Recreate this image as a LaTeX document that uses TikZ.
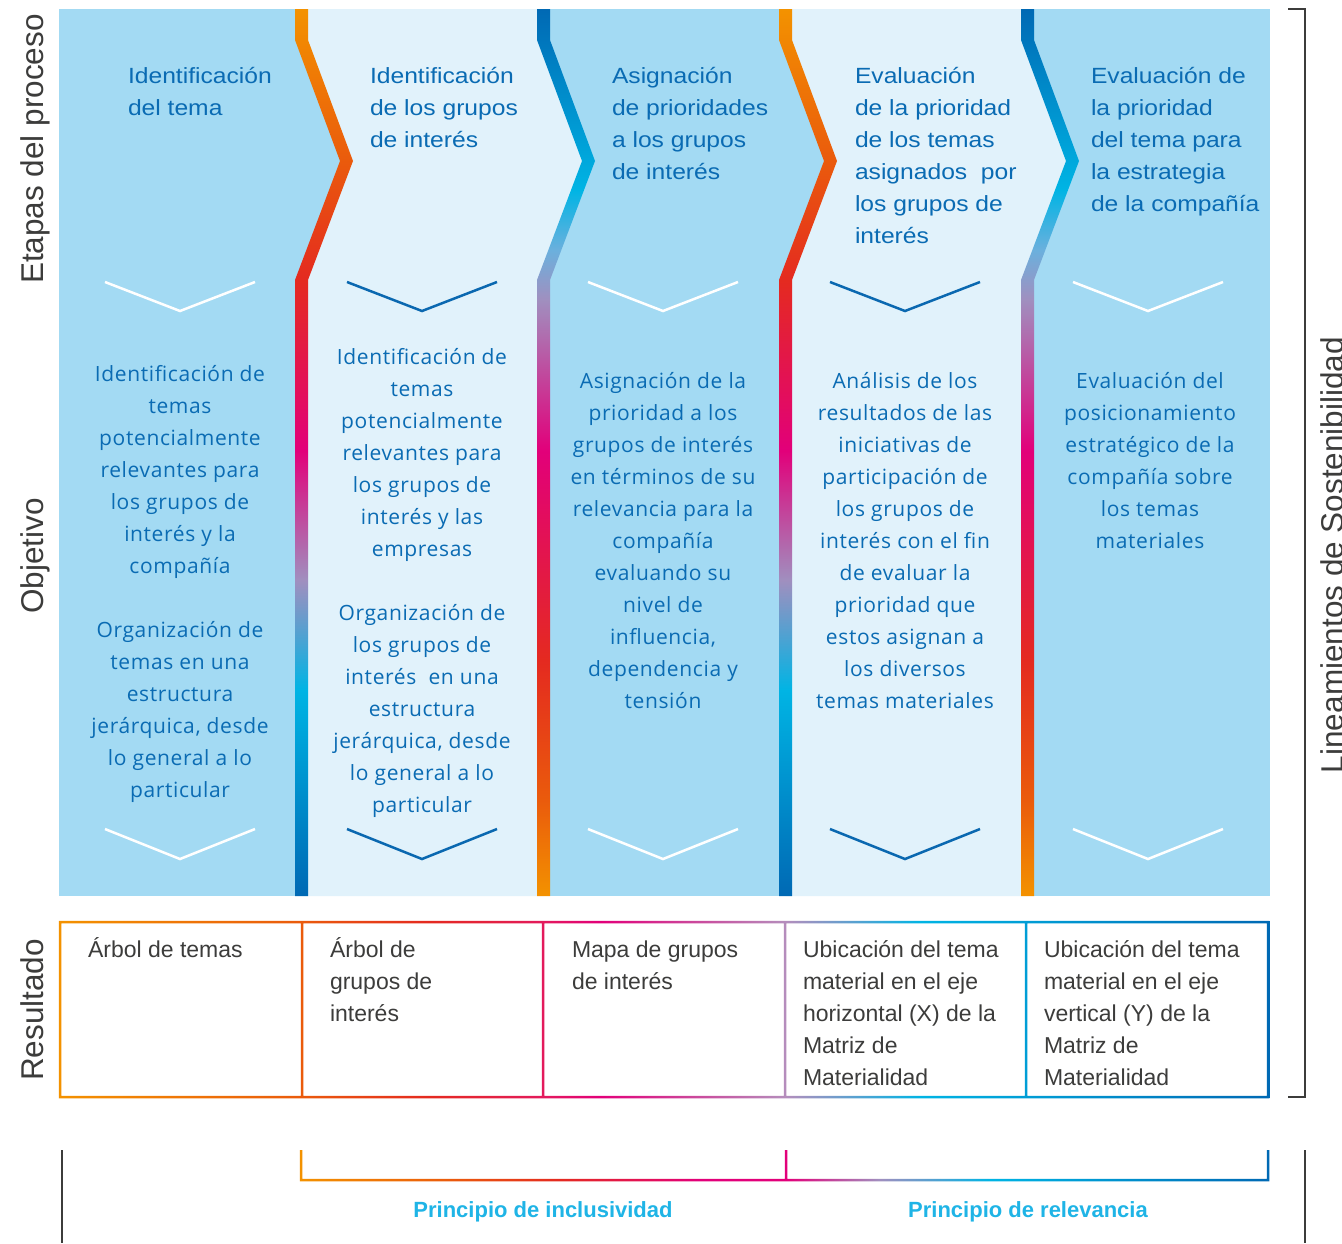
\documentclass[tikz,border=0pt]{standalone}
\usepackage{fontspec}
\setmainfont{Liberation Sans}
\newfontfamily\topfont[FakeStretch=1.12]{Liberation Sans}
\newfontfamily\objfont[LetterSpace=3]{Open Sans}
\definecolor{colA}{HTML}{A3DAF3}
\definecolor{colB}{HTML}{E1F2FB}
\definecolor{txtblue}{HTML}{0A6BB3}
\definecolor{chevblue}{HTML}{0A68B0}
\definecolor{txtgray}{HTML}{3C3C3B}
\definecolor{cyanbold}{HTML}{1FB4E6}
\definecolor{cOrange}{HTML}{F39200}
\definecolor{cOrRed}{HTML}{EA5B0C}
\definecolor{cRed}{HTML}{E42A20}
\definecolor{cMag}{HTML}{E2007A}
\definecolor{cLav}{HTML}{A08FBF}
\definecolor{cCyan}{HTML}{00B4E4}
\definecolor{cBlue}{HTML}{0069B4}
\definecolor{cLBlue}{HTML}{6BB0DD}
\definecolor{cPink}{HTML}{E31A5C}
\definecolor{cLavP}{HTML}{B58DBC}
\pgfdeclareverticalshading{barA}{100bp}{color(0bp)=(cBlue); color(25bp)=(cBlue); color(36.6bp)=(cCyan); color(42.8bp)=(cLav); color(50.1bp)=(cMag); color(59.7bp)=(cRed); color(66.5bp)=(cOrRed); color(75bp)=(cOrange); color(100bp)=(cOrange)}
\pgfdeclareverticalshading{barB}{100bp}{color(0bp)=(cOrange); color(25bp)=(cOrange); color(30.4bp)=(cOrRed); color(38.3bp)=(cRed); color(50.1bp)=(cMag); color(58.6bp)=(cLav); color(61.4bp)=(cLBlue); color(64.8bp)=(cCyan); color(75bp)=(cBlue); color(100bp)=(cBlue)}
\pgfdeclarehorizontalshading{resgrad}{100bp}{color(0bp)=(cOrange); color(25bp)=(cOrange); color(35bp)=(cOrRed); color(40.3bp)=(cRed); color(45bp)=(cPink); color(47.4bp)=(cMag); color(55bp)=(cLavP); color(60.6bp)=(cCyan); color(75bp)=(cBlue); color(100bp)=(cBlue)}
\pgfdeclarehorizontalshading{brgrad}{100bp}{color(0bp)=(cOrange); color(25bp)=(cOrange); color(32.7bp)=(cOrRed); color(38.4bp)=(cRed); color(45.6bp)=(cMag); color(50.1bp)=(cMag); color(54.9bp)=(cLav); color(60.6bp)=(cCyan); color(75bp)=(cBlue); color(100bp)=(cBlue)}
\newcommand\fl{\rule{0pt}{24pt}}
\newcommand\barpoly[1]{(#1-6.5,9) -- (#1-6.5,40) -- (#1+38.5,161) -- (#1-6.5,280) -- (#1-6.5,896) -- (#1+6.5,896) -- (#1+6.5,280) -- (#1+51.5,161) -- (#1+6.5,40) -- (#1+6.5,9) -- cycle}
\newcommand\colpoly[2]{(#1,9) -- (#1,40) -- (#1+45,161) -- (#1,280) -- (#1,896) -- (#2,896) -- (#2,280) -- (#2+45,161) -- (#2,40) -- (#2,9) -- cycle}
\tikzset{
  toptxt/.style={anchor=north west, inner sep=0pt, outer sep=0pt, align=left, text=txtblue, font=\topfont\fontsize{22}{32}\selectfont},
  objtxt/.style={anchor=north, inner sep=0pt, outer sep=0pt, align=center, text=txtblue, font=\objfont\fontsize{21}{32}\selectfont},
  restxt/.style={anchor=north west, inner sep=0pt, outer sep=0pt, align=left, text=txtgray, font=\fontsize{23}{32}\selectfont},
  sidetxt/.style={rotate=90, anchor=base, inner sep=0pt, outer sep=0pt, text=txtgray, font=\fontsize{31.5}{36}\selectfont},
  printxt/.style={anchor=base, inner sep=0pt, outer sep=0pt, text=cyanbold, font=\bfseries\fontsize{22}{26}\selectfont},
  chevw/.style={draw=white, line width=2.5pt},
  chevb/.style={draw=chevblue, line width=2.5pt},
  darkline/.style={draw=txtgray, line width=1.5pt},
}
\begin{document}
\begin{tikzpicture}[x=1pt, y=-1pt]
\useasboundingbox (0,0) rectangle (1342,1243);
% backgrounds
\fill[colA] (59,9) rectangle (1270,896);
\fill[colB] \colpoly{301.5}{543.5};
\fill[colB] \colpoly{785.5}{1027.5};
% bars
\shade[shading=barA] \barpoly{301.5};
\shade[shading=barB] \barpoly{543.5};
\shade[shading=barA] \barpoly{785.5};
\shade[shading=barB] \barpoly{1027.5};
% chevrons
\draw[chevw] (105,282) -- (180,311) -- (255,282);
\draw[chevb] (347,282) -- (422,311) -- (497,282);
\draw[chevw] (588,282) -- (663,311) -- (738,282);
\draw[chevb] (830,282) -- (905,311) -- (980,282);
\draw[chevw] (1073,282) -- (1148,311) -- (1223,282);
\draw[chevw] (105,829) -- (180,859) -- (255,829);
\draw[chevb] (347,829) -- (422,859) -- (497,829);
\draw[chevw] (588,829) -- (663,859) -- (738,829);
\draw[chevb] (830,829) -- (905,859) -- (980,829);
\draw[chevw] (1073,829) -- (1148,859) -- (1223,829);
% top texts
\node[toptxt] (t1) at (128,59) {\fl Identificación\\del tema};
\node[toptxt] (t2) at (370,59) {\fl Identificación\\de los grupos\\de interés};
\node[toptxt] (t3) at (612,59) {\fl Asignación\\de prioridades\\a los grupos\\de interés};
\node[toptxt] (t4) at (855,59) {\fl Evaluación\\de la prioridad\\de los temas\\asignados\ \ por\\los grupos de\\interés};
\node[toptxt] (t5) at (1091,59) {\fl Evaluación de\\la prioridad\\del tema para\\la estrategia\\de la compañía};
% objective texts
\node[objtxt] (o1) at (180,357) {\fl Identificación de\\temas\\potencialmente\\relevantes para\\los grupos de\\interés y la\\compañía\\[32pt]Organización de\\temas en una\\estructura\\jerárquica, desde\\lo general a lo\\particular};
\node[objtxt] (o2) at (422,340) {\fl Identificación de\\temas\\potencialmente\\relevantes para\\los grupos de\\interés y las\\empresas\\[32pt]Organización de\\los grupos de\\interés\ \ en una\\estructura\\jerárquica, desde\\lo general a lo\\particular};
\node[objtxt] (o3) at (663,364) {\fl Asignación de la\\prioridad a los\\grupos de interés\\en términos de su\\relevancia para la\\compañía\\evaluando su\\nivel de\\influencia,\\dependencia y\\tensión};
\node[objtxt] (o4) at (905,364) {\fl Análisis de los\\resultados de las\\iniciativas de\\participación de\\los grupos de\\interés con el fin\\de evaluar la\\prioridad que\\estos asignan a\\los diversos\\temas materiales};
\node[objtxt] (o5) at (1150,364) {\fl Evaluación del\\posicionamiento\\estratégico de la\\compañía sobre\\los temas\\materiales};
% result boxes
\path[shade, shading=resgrad, even odd rule] (58.75,920.75) rectangle (1269.25,1098.25)
  (61.25,923.25) rectangle (300.75,1095.75)
  (303.25,923.25) rectangle (541.75,1095.75)
  (544.25,923.25) rectangle (783.75,1095.75)
  (786.25,923.25) rectangle (1024.75,1095.75)
  (1027.25,923.25) rectangle (1266.75,1095.75);
\node[restxt] (r1) at (88,933) {\fl Árbol de temas};
\node[restxt] (r2) at (330,933) {\fl Árbol de\\grupos de\\interés};
\node[restxt] (r3) at (572,933) {\fl Mapa de grupos\\de interés};
\node[restxt] (r4) at (803,933) {\fl Ubicación del tema\\material en el eje\\horizontal (X) de la\\Matriz de\\Materialidad};
\node[restxt] (r5) at (1044,933) {\fl Ubicación del tema\\material en el eje\\vertical (Y) de la\\Matriz de\\Materialidad};
% bottom bracket
\path[shade, shading=brgrad] (299.75,1150) rectangle (302.25,1181.25)
  (299.75,1178.75) rectangle (1269.25,1181.25)
  (784.75,1150) rectangle (787.25,1181.25)
  (1266.75,1150) rectangle (1269.25,1181.25);
\node[printxt] (p1) at (543,1217) {Principio de inclusividad};
\node[printxt] (p2) at (1028,1217) {Principio de relevancia};
% dark lines
\draw[darkline] (1288,9) -- (1305,9) -- (1305,1097) -- (1288,1097);
\draw[darkline] (62,1150) -- (62,1243);
\draw[darkline] (1305,1150) -- (1305,1243);
% side labels
\node[sidetxt] (s1) at (43,149) {Etapas del proceso};
\node[sidetxt] (s2) at (43,556) {Objetivo};
\node[sidetxt] (s3) at (43,1010) {Resultado};
\node[sidetxt] (s4) at (1343,555) {Lineamientos de Sostenibilidad};
\end{tikzpicture}
\end{document}
